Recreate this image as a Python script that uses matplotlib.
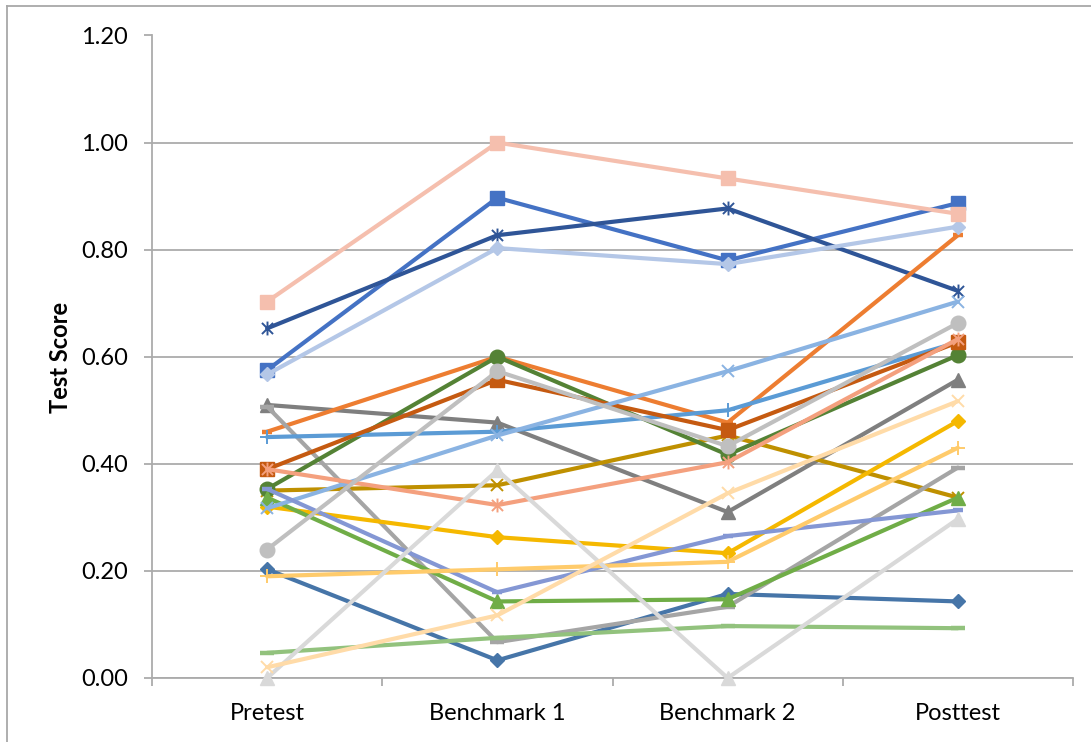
import matplotlib
matplotlib.use("Agg")
import matplotlib.pyplot as plt
from matplotlib.path import Path
from matplotlib.lines import Line2D

plt.rcParams['font.family'] = ['Lato', 'DejaVu Sans']

categories = ["Pretest", "Benchmark 1", "Benchmark 2", "Posttest"]
y_ticks = [0.0, 0.2, 0.4, 0.6, 0.8, 1.0, 1.2]

# one list of scores per student, in series order
s01 = [0.203, 0.033, 0.157, 0.143]
s02 = [0.575, 0.897, 0.780, 0.887]
s03 = [0.510, 0.477, 0.310, 0.557]
s04 = [0.350, 0.360, 0.453, 0.337]
s05 = [0.653, 0.827, 0.877, 0.723]
s06 = [0.460, 0.600, 0.477, 0.827]
s07 = [0.507, 0.067, 0.133, 0.393]
s08 = [0.353, 0.600, 0.417, 0.603]
s09 = [0.450, 0.460, 0.500, 0.627]
s10 = [0.320, 0.263, 0.233, 0.480]
s11 = [0.390, 0.557, 0.463, 0.627]
s12 = [0.337, 0.143, 0.147, 0.337]
s13 = [0.317, 0.453, 0.573, 0.703]
s14 = [0.390, 0.323, 0.403, 0.633]
s15 = [0.353, 0.160, 0.265, 0.313]
s16 = [0.047, 0.075, 0.097, 0.093]
s17 = [0.240, 0.573, 0.433, 0.663]
s18 = [0.190, 0.203, 0.217, 0.430]
s19 = [0.567, 0.803, 0.773, 0.843]
s20 = [0.703, 1.000, 0.933, 0.867]
s21 = [0.000, 0.388, 0.000, 0.297]
s22 = [0.020, 0.117, 0.345, 0.517]

series = [s01, s02, s03, s04, s05, s06, s07, s08, s09, s10, s11,
          s12, s13, s14, s15, s16, s17, s18, s19, s20, s21, s22]

colors = ["#4675A8", "#4472C4", "#7F7F7F", "#BF9000", "#2F5597", "#ED7D31",
          "#A5A5A5", "#548235", "#5B9BD5", "#F5B800", "#C55A11", "#70AD47",
          "#8AB3E2", "#F4A07E", "#8497D4", "#92C27D", "#BFBFBF", "#FFCB6B",
          "#B4C7E7", "#F5BFAE", "#D9D9D9", "#FFDBA8"]

# asterisk marker: an X with a vertical stroke through it
star = Path([(-1, -1), (1, 1), (-1, 1), (1, -1), (0, -1.25), (0, 1.25)],
            [Path.MOVETO, Path.LINETO, Path.MOVETO, Path.LINETO,
             Path.MOVETO, Path.LINETO])

marker_cycle = [
    dict(marker="D", ms=7.2, mew=1.0, filled=True),
    dict(marker="s", ms=10, mew=1.0, filled=True),
    dict(marker="^", ms=10.5, mew=1.0, filled=True),
    dict(marker="x", ms=8.5, mew=1.4, filled=False),
    dict(marker=star, ms=10, mew=1.4, filled=False),
    dict(marker="_", ms=7.5, mew=3.2, filled=False),
    dict(marker="_", ms=10.5, mew=3.2, filled=False),
    dict(marker="o", ms=10.5, mew=1.0, filled=True),
    dict(marker="+", ms=10, mew=1.4, filled=False),
]

fig = plt.figure(figsize=(10.91, 7.42), dpi=100)
ax = fig.add_axes([152 / 1091, 1 - 678 / 742, (1073 - 152) / 1091, (678 - 35.5) / 742])

x = list(range(len(categories)))
grid_c = "#ABABAB"

for i, (vals, col) in enumerate(zip(series, colors)):
    m = marker_cycle[i % len(marker_cycle)]
    ax.plot(x, vals, color=col, lw=3.0, solid_capstyle="round",
            solid_joinstyle="round", marker=m["marker"], ms=m["ms"],
            mew=m["mew"], mec=col, mfc=col if m["filled"] else "none",
            zorder=3 + i * 0.01, clip_on=False)

ax.set_xlim(-0.5, len(categories) - 0.5)
ax.set_ylim(0, 1.2)
ax.set_yticks(y_ticks)
ax.set_yticklabels([f"{v:.2f}" for v in y_ticks])
ax.set_xticks(x)
ax.set_xticklabels(categories)
ax.set_xticks([i - 0.5 for i in range(len(categories) + 1)], minor=True)

ax.yaxis.grid(True, color=grid_c, lw=1.3, zorder=0)
ax.set_axisbelow(True)
for side in ("top", "right"):
    ax.spines[side].set_visible(False)
for side in ("left", "bottom"):
    ax.spines[side].set_color(grid_c)
    ax.spines[side].set_linewidth(1.3)

ax.tick_params(axis="y", direction="out", length=5.5, width=1.3, color=grid_c,
               pad=12, labelsize=17, labelcolor="black")
ax.tick_params(axis="x", which="major", length=0, pad=18, labelsize=17,
               labelcolor="black")
ax.tick_params(axis="x", which="minor", direction="out", length=5.5, width=1.3,
               color=grid_c)

fig.text(60 / 1091, 1 - 357 / 742, "Test Score", rotation=90, ha="center",
         va="center", fontsize=17, fontweight="bold")

# chart frame
fig.add_artist(Line2D([7 / 1091, 7 / 1091], [0, 1 - 6 / 742], color="#A8A8A8",
                      lw=1.3, transform=fig.transFigure))
fig.add_artist(Line2D([7 / 1091, 1], [1 - 6 / 742, 1 - 6 / 742], color="#A8A8A8",
                      lw=1.3, transform=fig.transFigure))

fig.savefig("out.png", dpi=100)
